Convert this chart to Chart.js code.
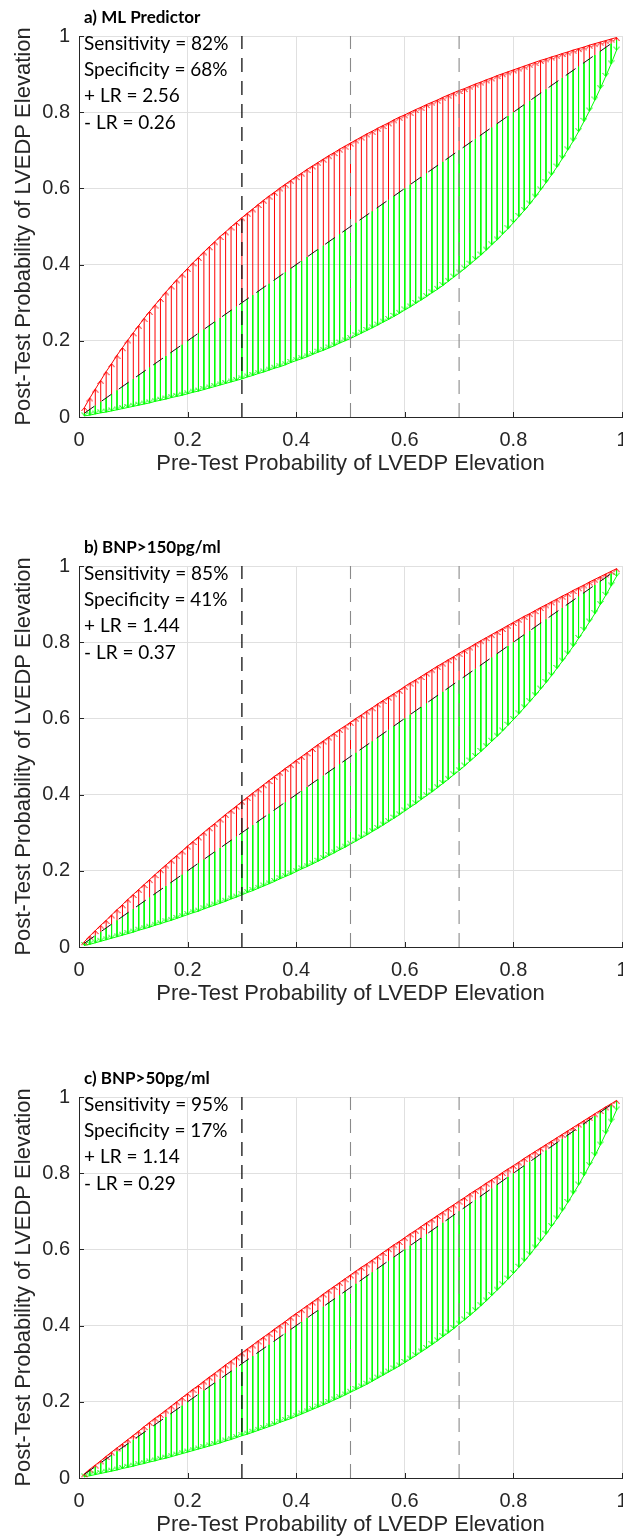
<!DOCTYPE html>
<html>
<head>
<meta charset="utf-8">
<script src="https://cdn.jsdelivr.net/npm/chart.js@4.4.1/dist/chart.umd.min.js"></script>
<style>
  html, body { margin: 0; padding: 0; background: #fff; }
  body { width: 623px; height: 1538px; overflow: hidden; position: relative; }
  .panel { position: absolute; left: 0; width: 650px; height: 530px; }
</style>
</head>
<body>
<div class="panel" style="top:0"><canvas id="chartA" width="650" height="530"></canvas></div>
<div class="panel" style="top:530px"><canvas id="chartB" width="650" height="530"></canvas></div>
<div class="panel" style="top:1061px"><canvas id="chartC" width="650" height="530"></canvas></div>
<script>
// pre-test probability (x) for every stem
const preTest = [
  0.01, 0.02, 0.03, 0.04, 0.05, 0.06, 0.07, 0.08, 0.09, 0.10,
  0.11, 0.12, 0.13, 0.14, 0.15, 0.16, 0.17, 0.18, 0.19, 0.20,
  0.21, 0.22, 0.23, 0.24, 0.25, 0.26, 0.27, 0.28, 0.29, 0.30,
  0.31, 0.32, 0.33, 0.34, 0.35, 0.36, 0.37, 0.38, 0.39, 0.40,
  0.41, 0.42, 0.43, 0.44, 0.45, 0.46, 0.47, 0.48, 0.49, 0.50,
  0.51, 0.52, 0.53, 0.54, 0.55, 0.56, 0.57, 0.58, 0.59, 0.60,
  0.61, 0.62, 0.63, 0.64, 0.65, 0.66, 0.67, 0.68, 0.69, 0.70,
  0.71, 0.72, 0.73, 0.74, 0.75, 0.76, 0.77, 0.78, 0.79, 0.80,
  0.81, 0.82, 0.83, 0.84, 0.85, 0.86, 0.87, 0.88, 0.89, 0.90,
  0.91, 0.92, 0.93, 0.94, 0.95, 0.96, 0.97, 0.98, 0.99
];

// a) ML predictor
const postPosA = [
  .025, .050, .073, .096, .119, .140, .162, .182, .202, .221,
  .240, .259, .277, .294, .311, .328, .344, .360, .375, .390,
  .405, .419, .433, .447, .460, .474, .486, .499, .511, .523,
  .535, .546, .558, .569, .580, .590, .601, .611, .621, .631,
  .640, .650, .659, .668, .677, .686, .694, .703, .711, .719,
  .727, .735, .743, .750, .758, .765, .772, .780, .787, .793,
  .800, .807, .813, .820, .826, .832, .839, .845, .851, .857,
  .862, .868, .874, .879, .885, .890, .896, .901, .906, .911,
  .916, .921, .926, .931, .936, .940, .945, .949, .954, .958,
  .963, .967, .971, .976, .980, .984, .988, .992, .996
];
const postNegA = [
  .003, .005, .008, .011, .013, .016, .019, .022, .025, .028,
  .031, .034, .037, .041, .044, .047, .051, .054, .057, .061,
  .065, .068, .072, .076, .080, .084, .088, .092, .096, .100,
  .105, .109, .114, .118, .123, .128, .132, .137, .143, .148,
  .153, .158, .164, .170, .175, .181, .187, .194, .200, .206,
  .213, .220, .227, .234, .241, .249, .256, .264, .272, .281,
  .289, .298, .307, .316, .326, .335, .345, .356, .367, .378,
  .389, .401, .413, .425, .438, .452, .465, .480, .494, .510,
  .526, .542, .559, .577, .596, .615, .635, .656, .678, .701,
  .724, .749, .776, .803, .832, .862, .894, .927, .963
];

// b) BNP > 150 pg/ml
const postPosB = [
  .014, .029, .043, .057, .070, .084, .098, .111, .125, .138,
  .151, .164, .177, .190, .203, .215, .228, .240, .252, .265,
  .277, .289, .301, .313, .324, .336, .348, .359, .370, .382,
  .393, .404, .415, .426, .437, .448, .458, .469, .479, .490,
  .500, .510, .521, .531, .541, .551, .561, .571, .580, .590,
  .600, .609, .619, .628, .638, .647, .656, .665, .674, .684,
  .693, .701, .710, .719, .728, .737, .745, .754, .762, .771,
  .779, .787, .796, .804, .812, .820, .828, .836, .844, .852,
  .860, .868, .875, .883, .891, .898, .906, .913, .921, .928,
  .936, .943, .950, .958, .965, .972, .979, .986, .993
];
const postNegB = [
  .004, .007, .011, .015, .019, .023, .027, .031, .035, .039,
  .044, .048, .052, .057, .061, .066, .070, .075, .080, .085,
  .090, .094, .100, .105, .110, .115, .120, .126, .131, .137,
  .143, .148, .154, .160, .166, .172, .179, .185, .191, .198,
  .205, .211, .218, .225, .232, .240, .247, .255, .262, .270,
  .278, .286, .294, .303, .311, .320, .329, .338, .347, .357,
  .367, .376, .387, .397, .407, .418, .429, .440, .452, .463,
  .475, .488, .500, .513, .526, .540, .553, .567, .582, .597,
  .612, .628, .644, .660, .677, .694, .712, .731, .750, .769,
  .789, .810, .831, .853, .875, .899, .923, .948, .973
];

// c) BNP > 50 pg/ml
const postPosC = [
  .011, .023, .034, .045, .057, .068, .079, .090, .101, .112,
  .123, .135, .146, .157, .167, .178, .189, .200, .211, .222,
  .233, .243, .254, .265, .275, .286, .297, .307, .318, .328,
  .339, .349, .360, .370, .380, .391, .401, .411, .422, .432,
  .442, .452, .462, .472, .483, .493, .503, .513, .523, .533,
  .543, .553, .562, .572, .582, .592, .602, .612, .621, .631,
  .641, .650, .660, .670, .679, .689, .698, .708, .717, .727,
  .736, .746, .755, .764, .774, .783, .792, .802, .811, .820,
  .829, .839, .848, .857, .866, .875, .884, .893, .902, .911,
  .920, .929, .938, .947, .956, .965, .974, .982, .991
];
const postNegC = [
  .003, .006, .009, .012, .015, .018, .021, .025, .028, .031,
  .035, .038, .042, .045, .049, .052, .056, .060, .064, .068,
  .072, .076, .080, .084, .088, .092, .097, .101, .106, .111,
  .115, .120, .125, .130, .135, .140, .146, .151, .156, .162,
  .168, .174, .180, .186, .192, .198, .205, .211, .218, .225,
  .232, .239, .246, .254, .262, .270, .278, .286, .294, .303,
  .312, .321, .331, .340, .350, .360, .371, .381, .392, .404,
  .415, .427, .439, .452, .465, .479, .493, .507, .522, .537,
  .553, .569, .586, .604, .622, .640, .660, .680, .701, .723,
  .746, .769, .794, .820, .846, .874, .904, .934, .966
];

const panelTitles = ['a) ML Predictor', 'b) BNP>150pg/ml', 'c) BNP>50pg/ml'];
const statsA = ['Sensitivity = 82%', 'Specificity = 68%', '+ LR = 2.56', '- LR = 0.26'];
const statsB = ['Sensitivity = 85%', 'Specificity = 41%', '+ LR = 1.44', '- LR = 0.37'];
const statsC = ['Sensitivity = 95%', 'Specificity = 17%', '+ LR = 1.14', '- LR = 0.29'];
const cutoffLines = [0.3, 0.5, 0.7];
const axisMin = 0, axisMax = 1, tickStep = 0.2;
const xTitle = 'Pre-Test Probability of LVEDP Elevation';
const yTitle = 'Post-Test Probability of LVEDP Elevation';

const RED = '#ff0000';
const GREEN = '#00ff00';
const AXIS = '#262626';

// little open arrow heads like matlab quiver
function makeHead(color, up) {
  const c = document.createElement('canvas');
  c.width = 7; c.height = 9;
  const g = c.getContext('2d');
  g.strokeStyle = color;
  g.lineWidth = 1;
  g.beginPath();
  if (up) { g.moveTo(0.5, 8); g.lineTo(3.5, 4.5); g.lineTo(6.5, 8); }
  else { g.moveTo(0.5, 1); g.lineTo(3.5, 4.5); g.lineTo(6.5, 1); }
  g.stroke();
  return c;
}
const headUp = makeHead(RED, true);
const headDown = makeHead(GREEN, false);

function stemPoints(post) {
  const pts = [];
  preTest.forEach((p, i) => {
    pts.push({ x: p, y: p }, { x: p, y: post[i] }, { x: p, y: null });
  });
  return pts;
}

// matlab style: tick marks point into the axes
const inwardTicks = {
  id: 'inwardTicks',
  afterDatasetsDraw(chart) {
    const { ctx, chartArea: a, scales: { x, y } } = chart;
    ctx.save();
    ctx.strokeStyle = AXIS;
    ctx.lineWidth = 1;
    ctx.beginPath();
    x.ticks.forEach(t => {
      const px = Math.round(x.getPixelForValue(t.value)) + 0.5;
      ctx.moveTo(px, a.bottom); ctx.lineTo(px, a.bottom - 5);
    });
    y.ticks.forEach(t => {
      const py = Math.round(y.getPixelForValue(t.value)) + 0.5;
      ctx.moveTo(a.left, py); ctx.lineTo(a.left + 5, py);
    });
    ctx.stroke();
    ctx.restore();
  }
};

const panelText = {
  id: 'panelText',
  afterDraw(chart, args, opts) {
    const { ctx, chartArea: a } = chart;
    ctx.save();
    ctx.fillStyle = '#000';
    ctx.textAlign = 'left';
    ctx.textBaseline = 'middle';
    ctx.font = 'bold 17px Lato';
    ctx.fillText(opts.title, 84, 18);
    ctx.font = '19px Lato';
    opts.lines.forEach((s, i) => ctx.fillText(s, a.left + 5, a.top + 7.5 + i * 26.4));
    ctx.restore();
  }
};

const tickLabel = v => String(Math.round(v * 10) / 10);

function buildChart(id, posts, negs, title, lines) {
  const cutoffSets = cutoffLines.map((v, i) => ({
    data: [{ x: v, y: axisMin }, { x: v, y: axisMax }],
    borderColor: i === 0 ? '#111' : '#8a8a8a',
    borderWidth: i === 0 ? 1.3 : 1.1,
    borderDash: [14, 9],
    pointRadius: 0
  }));

  new Chart(document.getElementById(id), {
    type: 'line',
    data: {
      datasets: [
        {
          data: [{ x: preTest[0], y: preTest[0] }, { x: preTest[preTest.length - 1], y: preTest[preTest.length - 1] }],
          borderColor: '#111',
          borderWidth: 1,
          borderDash: [12, 9],
          pointRadius: 0
        },
        ...cutoffSets,
        {
          data: preTest.map((p, i) => ({ x: p, y: posts[i] })),
          borderColor: RED, borderWidth: 1,
          pointStyle: headUp, pointRadius: 2
        },
        {
          data: preTest.map((p, i) => ({ x: p, y: negs[i] })),
          borderColor: GREEN, borderWidth: 1,
          pointStyle: headDown, pointRadius: 2
        },
        { data: stemPoints(posts), borderColor: RED, borderWidth: 1, pointRadius: 0, spanGaps: false },
        { data: stemPoints(negs), borderColor: GREEN, borderWidth: 1, pointRadius: 0, spanGaps: false }
      ]
    },
    options: {
      animation: false,
      responsive: false,
      events: [],
      layout: { padding: { top: 36, left: 0, right: 28, bottom: 53 } },
      plugins: {
        legend: { display: false },
        tooltip: { enabled: false },
        panelText: { title: title, lines: lines }
      },
      scales: {
        x: {
          type: 'linear', min: axisMin, max: axisMax,
          ticks: { stepSize: tickStep, padding: 11, color: AXIS, maxRotation: 0, callback: tickLabel,
                   font: { family: 'Liberation Sans', size: 20 } },
          grid: { color: '#e0e0e0', drawTicks: false },
          border: { color: AXIS, width: 1 },
          title: { display: true, text: xTitle, color: AXIS, padding: { top: 0, bottom: 0 },
                   font: { family: 'Liberation Sans', size: 22 } },
          afterFit: s => { s.height = 60; }
        },
        y: {
          type: 'linear', min: axisMin, max: axisMax,
          ticks: { stepSize: tickStep, padding: 9, color: AXIS, callback: tickLabel,
                   font: { family: 'Liberation Sans', size: 20 } },
          grid: { color: '#e0e0e0', drawTicks: false },
          border: { color: AXIS, width: 1 },
          title: { display: true, text: yTitle, color: AXIS, padding: { top: 11, bottom: 0 },
                   font: { family: 'Liberation Sans', size: 22 } },
          afterFit: s => { s.width = 79; }
        }
      }
    },
    plugins: [inwardTicks, panelText]
  });
}

buildChart('chartA', postPosA, postNegA, panelTitles[0], statsA);
buildChart('chartB', postPosB, postNegB, panelTitles[1], statsB);
buildChart('chartC', postPosC, postNegC, panelTitles[2], statsC);
</script>
</body>
</html>
